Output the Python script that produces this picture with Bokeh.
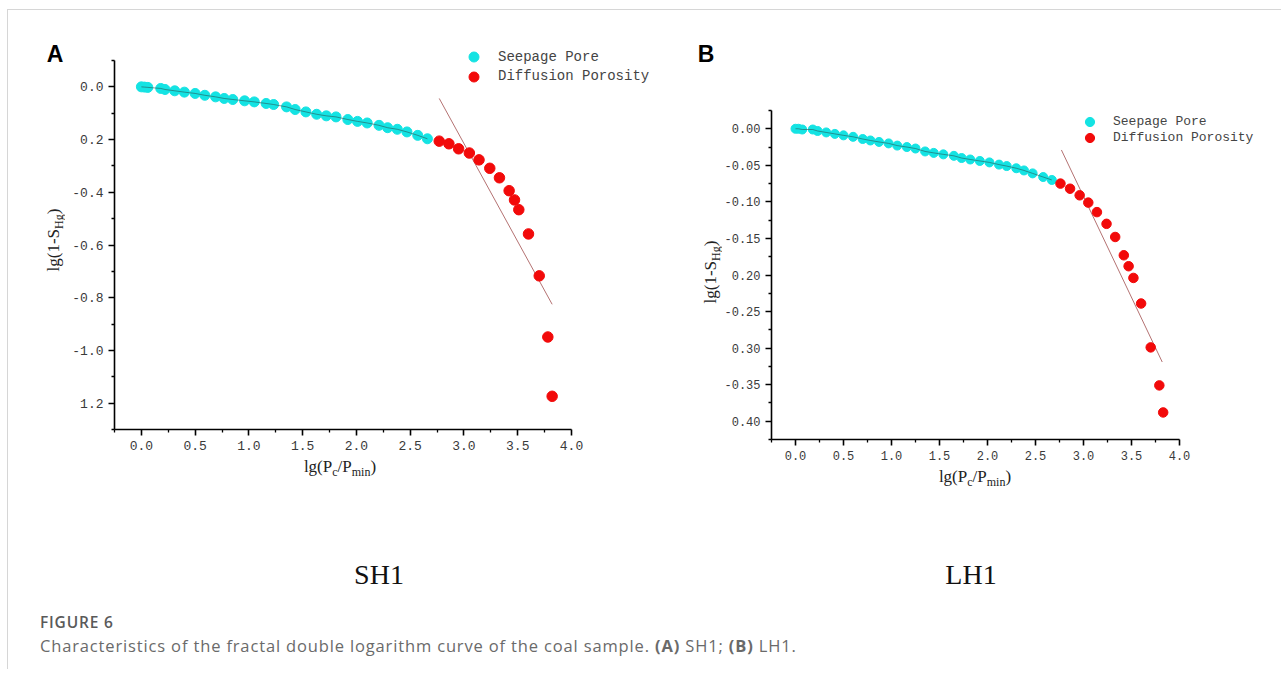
from bokeh.plotting import figure
from bokeh.models import Range1d, FixedTicker, Legend, LegendItem, Div, Spacer
from bokeh.layouts import row, column
from bokeh.embed import file_html
from bokeh.resources import INLINE

# ---------------- data ----------------
series_names = ["Seepage Pore", "Diffusion Porosity"]
panel_letters = ["A", "B"]
sample_names = ["SH1", "LH1"]
caption_title = "FIGURE 6"
caption_text = ("Characteristics of the fractal double logarithm curve of the coal sample. "
                "<b>(A)</b> SH1; <b>(B)</b> LH1.")
x_label_html = "lg(P<sub>c</sub>/P<sub>min</sub>)"
y_label_html = "lg(1-S<sub>Hg</sub>)"

sh1_seep_x = [0.00, 0.03, 0.06, 0.18, 0.22, 0.31, 0.40, 0.50, 0.59, 0.69, 0.77, 0.85, 0.96,
              1.05, 1.16, 1.23, 1.35, 1.43, 1.53, 1.63, 1.72, 1.81, 1.92,
              2.01, 2.10, 2.21, 2.29, 2.38, 2.47, 2.57, 2.66]
sh1_seep_y = [0.000, -0.001, -0.002, -0.006, -0.010, -0.015, -0.020, -0.025, -0.032, -0.038, -0.044, -0.048, -0.053,
              -0.057, -0.063, -0.067, -0.076, -0.086, -0.095, -0.104, -0.110, -0.114, -0.124,
              -0.131, -0.137, -0.146, -0.155, -0.161, -0.171, -0.184, -0.197]
sh1_diff_x = [2.77, 2.86, 2.95, 3.05, 3.14, 3.24, 3.33, 3.42, 3.47, 3.51, 3.60, 3.70, 3.78, 3.82]
sh1_diff_y = [-0.206, -0.216, -0.235, -0.251, -0.277, -0.309, -0.345, -0.394, -0.429, -0.466,
              -0.558, -0.717, -0.949, -1.174]
sh1_fit_x = [2.77, 3.82]
sh1_fit_y = [-0.044, -0.825]

lh1_seep_x = [0.00, 0.03, 0.07, 0.18, 0.23, 0.32, 0.41, 0.50, 0.60, 0.70, 0.78, 0.87, 0.97, 1.06,
              1.16, 1.25, 1.35, 1.44, 1.54, 1.65, 1.73, 1.82, 1.92, 2.02,
              2.12, 2.20, 2.30, 2.38, 2.47, 2.58, 2.67]
lh1_seep_y = [0.000, 0.000, -0.001, -0.001, -0.003, -0.005, -0.007, -0.009, -0.011, -0.014, -0.016, -0.018, -0.020, -0.023,
              -0.025, -0.027, -0.031, -0.033, -0.035, -0.037, -0.040, -0.042, -0.044, -0.046,
              -0.049, -0.051, -0.054, -0.057, -0.061, -0.066, -0.070]
lh1_diff_x = [2.76, 2.86, 2.96, 3.05, 3.14, 3.24, 3.33, 3.42, 3.47, 3.52, 3.60, 3.70, 3.79, 3.83]
lh1_diff_y = [-0.075, -0.082, -0.091, -0.101, -0.114, -0.130, -0.148, -0.173, -0.188, -0.204,
              -0.239, -0.299, -0.351, -0.388]
lh1_fit_x = [2.77, 3.82]
lh1_fit_y = [-0.029, -0.319]

x_ticks = [0.0, 0.5, 1.0, 1.5, 2.0, 2.5, 3.0, 3.5, 4.0]
x_tick_labels = ["0.0", "0.5", "1.0", "1.5", "2.0", "2.5", "3.0", "3.5", "4.0"]
x_minor = [-0.25, 0.25, 0.75, 1.25, 1.75, 2.25, 2.75, 3.25, 3.75]
x_bounds = (-0.25, 4.0)

sh1_y_ticks = [0.0, -0.2, -0.4, -0.6, -0.8, -1.0, -1.2]
sh1_y_tick_labels = ["0.0", "0.2", "-0.4", "-0.6", "-0.8", "-1.0", "1.2"]
sh1_y_minor = [0.1, -0.1, -0.3, -0.5, -0.7, -0.9, -1.1, -1.3]
sh1_y_bounds = (-1.3, 0.1)

lh1_y_ticks = [0.0, -0.05, -0.10, -0.15, -0.20, -0.25, -0.30, -0.35, -0.40]
lh1_y_tick_labels = ["0.00", "-0.05", "-0.10", "-0.15", "0.20", "-0.25", "0.30", "-0.35", "0.40"]
lh1_y_minor = [0.025, -0.025, -0.075, -0.125, -0.175, -0.225, -0.275, -0.325, -0.375, -0.425]
lh1_y_bounds = (-0.425, 0.025)

# ---------------- style ----------------
CYAN = "#14e3e3"
RED = "#f20a0a"
FIT = "#b47272"
BORDER = "#d6d6d6"
L_B, R_B, T_B, B_B = 50, 10, 0, 30   # figure borders (same for both panels)


def panel(fw, fh, axis_w, axis_h, xb, yb, yt, yl, ym, tick_px):
    # fw, fh: frame size in px; axis_w, axis_h: px length of the drawn axes
    xs = axis_w / (xb[1] - xb[0])
    ys = axis_h / (yb[1] - yb[0])
    xr = Range1d(xb[0], xb[0] + fw / xs)
    yr = Range1d(yb[0], yb[0] + fh / ys)
    p = figure(width=fw + L_B + R_B, height=fh + T_B + B_B, x_range=xr, y_range=yr,
               output_backend="svg", toolbar_location=None, title=None,
               min_border_left=L_B, min_border_right=R_B,
               min_border_top=T_B, min_border_bottom=B_B, margin=0)
    p.grid.visible = False
    p.outline_line_color = None
    p.background_fill_color = "white"
    p.border_fill_color = "white"
    xa = p.xaxis[0]
    ya = p.yaxis[0]
    xa.bounds = xb
    ya.bounds = yb
    xa.ticker = FixedTicker(ticks=x_ticks, minor_ticks=x_minor)
    xa.major_label_overrides = dict(zip(x_ticks, x_tick_labels))
    ya.ticker = FixedTicker(ticks=yt, minor_ticks=ym)
    ya.major_label_overrides = dict(zip(yt, yl))
    for ax in (xa, ya):
        ax.axis_line_color = "black"
        ax.axis_line_width = 1.6
        ax.major_tick_line_color = "black"
        ax.major_tick_line_width = 1.6
        ax.minor_tick_line_color = "black"
        ax.minor_tick_line_width = 1.3
        ax.major_tick_in = 0
        ax.major_tick_out = 6
        ax.minor_tick_in = 0
        ax.minor_tick_out = 3
        ax.major_label_text_font = "Liberation Mono"
        ax.major_label_text_font_size = f"{tick_px}px"
        ax.major_label_text_color = "#3a3a3a"
        ax.major_label_standoff = 5
    return p


def draw(p, sx, sy, dx, dy, fx, fy, msize):
    p.line(fx, fy, line_color=FIT, line_width=1)
    r1 = p.scatter(sx, sy, size=msize, fill_color=CYAN, line_color=CYAN)
    p.line(sx, sy, line_color="#2d4a4a", line_width=1, line_alpha=0.55)
    r2 = p.scatter(dx, dy, size=msize + 0.5, fill_color=RED, line_color=RED)
    return r1, r2


def legends(p, r1, r2, x, ys, glyph, fsize, standoff):
    for r, name, yy in zip((r1, r2), series_names, ys):
        lg = Legend(items=[LegendItem(label=name, renderers=[r])], location=(x, yy))
        lg.glyph_width = glyph
        lg.glyph_height = glyph
        lg.label_height = glyph
        lg.label_standoff = standoff
        lg.padding = 0
        lg.margin = 0
        lg.spacing = 0
        lg.border_line_alpha = 0
        lg.background_fill_alpha = 0
        lg.label_text_font = "Liberation Mono"
        lg.label_text_font_size = f"{fsize}px"
        lg.label_text_color = "#444444"
        p.add_layout(lg)


def html_box(w, h, items):
    inner = "".join(items)
    return Div(text=f'<div style="position:relative;width:{w}px;height:{h}px;overflow:visible;">{inner}</div>',
               width=w, height=h, margin=0)


def centered(x, y, html, css, rotate=False):
    rot = " rotate(-90deg)" if rotate else ""
    return (f'<div style="position:absolute;left:{x}px;top:{y}px;white-space:nowrap;line-height:1;'
            f'transform:translate(-50%,-50%){rot};{css}">{html}</div>')


SERIF = "font-family:'Liberation Serif',serif;color:#222;font-size:17px;"
SUB = lambda s: s.replace("<sub>", '<sub style="font-size:12px;">')
LETTER = "font-family:'Liberation Sans',Arial,sans-serif;font-weight:bold;font-size:23px;color:#000;"
SAMPLE = "font-family:'Liberation Serif',serif;font-size:28px;color:#111;"

# ---------------- panel A (SH1) ----------------
pA = panel(546, 389, 457, 369, x_bounds, sh1_y_bounds, sh1_y_ticks, sh1_y_tick_labels, sh1_y_minor, 13)
a1, a2 = draw(pA, sh1_seep_x, sh1_seep_y, sh1_diff_x, sh1_diff_y, sh1_fit_x, sh1_fit_y, 10)
legends(pA, a1, a2, 347, (360, 340.5), 25, 14, 12)

# ---------------- panel B (LH1) ----------------
pB = panel(491, 339, 408, 329, x_bounds, lh1_y_bounds, lh1_y_ticks, lh1_y_tick_labels, lh1_y_minor, 12)
b1, b2 = draw(pB, lh1_seep_x, lh1_seep_y, lh1_diff_x, lh1_diff_y, lh1_fit_x, lh1_fit_y, 9)
legends(pB, b1, b2, 307, (306.5, 290), 23, 13, 12)

# ---------------- surrounding texts ----------------
leftA = html_box(56, 590, [centered(47, 44, panel_letters[0], LETTER),
                           centered(47, 230, SUB(y_label_html), SERIF, rotate=True)])
belowA = html_box(606, 141, [centered(276, 9, SUB(x_label_html), SERIF),
                             centered(315, 116, sample_names[0], SAMPLE)])
leftB = html_box(51, 590, [centered(36, 44, panel_letters[1], LETTER),
                           centered(42, 262, SUB(y_label_html), SERIF, rotate=True)])
belowB = html_box(551, 131, [centered(254, 9, SUB(x_label_html), SERIF),
                             centered(250, 106, sample_names[1], SAMPLE)])

colA = row(leftA, column(Spacer(width=606, height=30, margin=0), pA, belowA, spacing=0, margin=0),
           spacing=0, margin=0)
colB = row(leftB, column(Spacer(width=551, height=90, margin=0), pB, belowB, spacing=0, margin=0),
           spacing=0, margin=0)

caption = html_box(1264, 69, [
    f'<div style="position:absolute;left:32px;top:23px;transform:translateY(-50%);white-space:nowrap;'
    f'font-family:\'Open Sans\',sans-serif;font-size:15.5px;font-weight:600;letter-spacing:0.8px;'
    f'color:#5a5a5a;line-height:1;">{caption_title}</div>',
    f'<div style="position:absolute;left:32px;top:46px;transform:translateY(-50%);white-space:nowrap;'
    f'font-family:\'Open Sans\',sans-serif;font-size:16.5px;letter-spacing:0.85px;color:#6a6a6a;'
    f'line-height:1;">{caption_text}</div>'])

content = column(row(colA, colB, spacing=0, margin=0), caption, spacing=0, margin=0)
top_line = Spacer(width=1274, height=1, margin=0, styles={"background-color": BORDER})
left_line = Spacer(width=1, height=659, margin=0, styles={"background-color": BORDER})

page = column(Spacer(width=10, height=9, margin=0),
              row(Spacer(width=7, height=10, margin=0),
                  column(top_line, row(left_line, content, spacing=0, margin=0), spacing=0, margin=0),
                  spacing=0, margin=0),
              spacing=0, margin=0)

open("out.html", "w").write(file_html(page, INLINE))
